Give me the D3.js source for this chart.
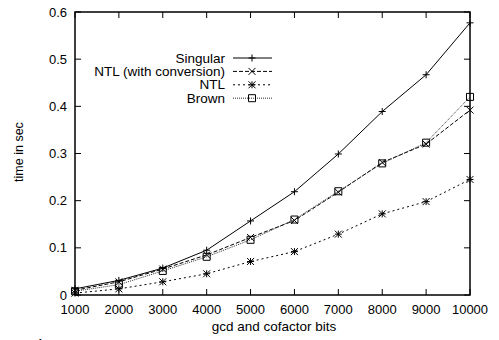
<!DOCTYPE html>
<html>
<head>
<meta charset="utf-8">
<script src="https://cdn.jsdelivr.net/npm/d3@7"></script>
<style>
  body { margin: 0; background: #fff; }
  svg { font-family: "Liberation Sans", Arial, sans-serif; }
</style>
</head>
<body>
<div id="main"></div>
<script>
const bits = [1000, 2000, 3000, 4000, 5000, 6000, 7000, 8000, 9000, 10000];
const singular = [0.013, 0.031, 0.057, 0.095, 0.157, 0.219, 0.299, 0.389, 0.467, 0.577];
const ntlConv = [0.010, 0.028, 0.055, 0.085, 0.122, 0.158, 0.218, 0.281, 0.320, 0.392];
const ntl = [0.004, 0.013, 0.028, 0.045, 0.071, 0.092, 0.129, 0.172, 0.198, 0.245];
const brown = [0.008, 0.022, 0.051, 0.081, 0.117, 0.160, 0.220, 0.279, 0.323, 0.420];
const yTicks = [0, 0.1, 0.2, 0.3, 0.4, 0.5, 0.6];

const ctx = { W: 499, H: 340, left: 75, right: 470, top: 12, bottom: 295 };

const series = [
    { name: "Singular", values: singular, dash: null, marker: "plus" },
    { name: "NTL (with conversion)", values: ntlConv, dash: "4,2", marker: "cross" },
    { name: "NTL", values: ntl, dash: "2,3", marker: "star" },
    { name: "Brown", values: brown, dash: "1,1", marker: "square" }
];

const svg = d3.select("#main").append("svg")
    .attr("width", ctx.W)
    .attr("height", ctx.H);

const x = d3.scaleLinear().domain([1000, 10000]).range([ctx.left, ctx.right]);
const y = d3.scaleLinear().domain([0, 0.6]).range([ctx.bottom, ctx.top]);

// ticks, mirrored on opposite sides
const tl = 6;
yTicks.forEach(t => {
    svg.append("line").attr("x1", ctx.left).attr("x2", ctx.left + tl)
        .attr("y1", y(t)).attr("y2", y(t)).attr("stroke", "#000");
    svg.append("line").attr("x1", ctx.right).attr("x2", ctx.right - tl)
        .attr("y1", y(t)).attr("y2", y(t)).attr("stroke", "#000");
    svg.append("text").attr("x", ctx.left - 8).attr("y", y(t) + 4.5)
        .attr("text-anchor", "end").attr("font-size", 13).text(t === 0 ? "0" : d3.format(".1f")(t));
});
bits.forEach(t => {
    svg.append("line").attr("x1", x(t)).attr("x2", x(t))
        .attr("y1", ctx.bottom).attr("y2", ctx.bottom - tl).attr("stroke", "#000");
    svg.append("line").attr("x1", x(t)).attr("x2", x(t))
        .attr("y1", ctx.top).attr("y2", ctx.top + tl).attr("stroke", "#000");
    svg.append("text").attr("x", x(t)).attr("y", ctx.bottom + 18.5)
        .attr("text-anchor", "middle").attr("font-size", 13).text(t);
});

svg.append("rect")
    .attr("x", ctx.left).attr("y", ctx.top)
    .attr("width", ctx.right - ctx.left).attr("height", ctx.bottom - ctx.top)
    .attr("fill", "none").attr("stroke", "#000").attr("stroke-width", 1.5);

svg.append("text")
    .attr("transform", `translate(23, 152) rotate(-90)`)
    .attr("text-anchor", "middle").attr("font-size", 12.5).text("time in sec");
svg.append("text")
    .attr("x", 274).attr("y", 331)
    .attr("text-anchor", "middle").attr("font-size", 13.5).text("gcd and cofactor bits");
// stray glyph fragment below the plot
svg.append("text").attr("x", 37).attr("y", 348).attr("font-size", 12).text("1");

function drawMarker(g, type, cx, cy) {
    const s = 3.5;
    const p = d3.path();
    if (type === "plus" || type === "star") {
        p.moveTo(cx - s, cy); p.lineTo(cx + s, cy);
        p.moveTo(cx, cy - s); p.lineTo(cx, cy + s);
    }
    if (type === "cross" || type === "star") {
        p.moveTo(cx - s, cy - s); p.lineTo(cx + s, cy + s);
        p.moveTo(cx - s, cy + s); p.lineTo(cx + s, cy - s);
    }
    if (type === "square") {
        p.rect(cx - s, cy - s, 2 * s, 2 * s);
    }
    g.append("path").attr("d", p.toString())
        .attr("fill", "none").attr("stroke", "#000").attr("stroke-width", 1);
}

const line = d3.line().x((d, i) => x(bits[i])).y(d => y(d));

series.forEach((s, k) => {
    const g = svg.append("g");
    g.append("path")
        .attr("d", line(s.values))
        .attr("fill", "none")
        .attr("stroke", s.marker === "square" ? "#333" : "#000")
        .attr("stroke-width", 1)
        .attr("stroke-dasharray", s.dash);
    s.values.forEach((v, i) => drawMarker(g, s.marker, x(bits[i]), y(v)));

    // legend
    const ly = 58 + k * 13.4;
    svg.append("text").attr("x", 225).attr("y", ly + 4.5)
        .attr("text-anchor", "end").attr("font-size", 13.5).text(s.name);
    svg.append("line").attr("x1", 233).attr("x2", 272).attr("y1", ly).attr("y2", ly)
        .attr("stroke", s.marker === "square" ? "#333" : "#000")
        .attr("stroke-dasharray", s.dash);
    drawMarker(svg, s.marker, 252, ly);
});
</script>
</body>
</html>
